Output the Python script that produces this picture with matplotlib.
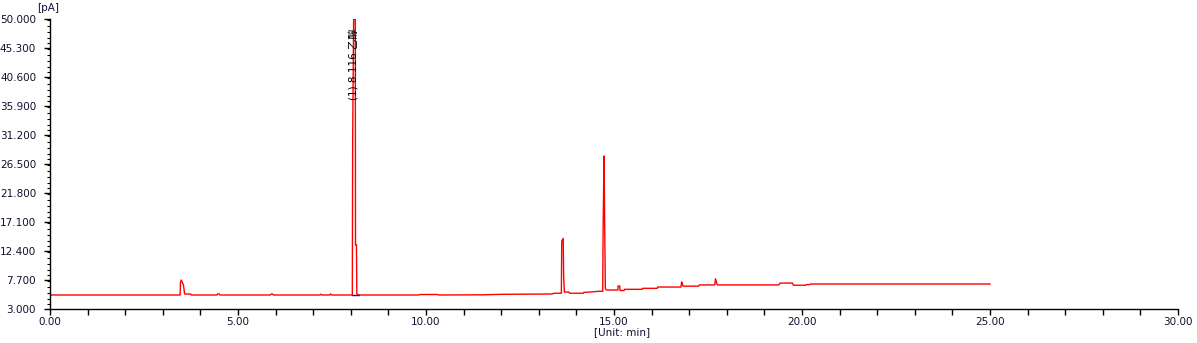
import matplotlib
matplotlib.use("Agg")
import matplotlib.pyplot as plt
from matplotlib.ticker import MultipleLocator, FixedLocator

# chromatogram trace: time [min] / signal [pA]
time_min = [
    0.00, 3.46, 3.47, 3.49, 3.55, 3.58, 3.74, 3.76,
    4.44, 4.46, 4.50, 4.52, 5.86, 5.88, 5.92, 5.94,
    7.18, 7.20, 7.23, 7.44, 7.46, 7.49,
    8.04, 8.05, 8.075, 8.12, 8.125, 8.15, 8.16, 8.22,
    9.80, 9.85, 10.30, 10.35, 11.50, 12.00, 13.35, 13.40,
    13.60, 13.61, 13.65, 13.66, 13.68, 13.80, 13.82, 14.18, 14.20, 14.25,
    14.60, 14.70, 14.71, 14.735, 14.75, 14.77, 14.80,
    15.10, 15.11, 15.15, 15.16, 15.27, 15.28, 15.75, 15.76, 16.15, 16.16,
    16.78, 16.80, 16.82, 16.84, 17.25, 17.27,
    17.68, 17.70, 17.73, 17.75, 19.38, 19.42, 19.75, 19.77,
    20.10, 20.12, 20.20, 20.22, 25.00,
]
signal_pa = [
    5.27, 5.27, 7.30, 7.70, 6.89, 5.43, 5.43, 5.27,
    5.27, 5.45, 5.45, 5.27, 5.27, 5.42, 5.42, 5.27,
    5.27, 5.40, 5.27, 5.27, 5.45, 5.27,
    5.27, 30.70, 49.95, 49.95, 13.40, 13.40, 5.45, 5.27,
    5.27, 5.35, 5.35, 5.27, 5.30, 5.38, 5.43, 5.55,
    5.55, 14.00, 14.45, 8.50, 5.75, 5.75, 5.55, 5.55, 5.70, 5.70,
    5.87, 5.87, 15.64, 27.80, 17.70, 6.30, 6.08,
    6.08, 6.73, 6.73, 6.00, 6.00, 6.19, 6.19, 6.35, 6.35, 6.56,
    6.56, 7.40, 7.00, 6.70, 6.70, 6.90,
    6.90, 7.90, 7.20, 6.90, 6.90, 7.20, 7.20, 6.85,
    6.85, 6.95, 6.95, 7.05, 7.05,
]

# integration baseline of the labelled peak
base_time = [8.03, 8.22]
base_signal = [5.27, 5.27]

peak_time = 8.10
peak_label = "(1) 8.116 乙醇"

y_ticks = [3.0, 7.7, 12.4, 17.1, 21.8, 26.5, 31.2, 35.9, 40.6, 45.3, 50.0]
x_ticks = [0, 5, 10, 15, 20, 25, 30]

W, H = 1197, 343
fig = plt.figure(figsize=(W / 100, H / 100), dpi=100)
ax = fig.add_axes([50 / W, 1 - 309 / H, (1178 - 50) / W, (309 - 19) / H])

ax.plot(base_time, base_signal, color="#0000ff", lw=1.0)
ax.plot(time_min, signal_pa, color="#ff0000", lw=1.0)

ax.text(peak_time, 36.9, peak_label, rotation=90, ha="center", va="bottom",
        fontsize=7.5, family=["DejaVu Sans", "Noto Sans CJK SC"])

ax.set_xlim(0, 30)
ax.set_ylim(3, 50)
for s in ["top", "right"]:
    ax.spines[s].set_visible(False)
for s in ["left", "bottom"]:
    ax.spines[s].set_linewidth(1.0)

ax.xaxis.set_major_locator(FixedLocator(x_ticks))
ax.set_xticklabels(["%.2f" % v for v in x_ticks])
ax.xaxis.set_minor_locator(MultipleLocator(1))
ax.yaxis.set_major_locator(FixedLocator(y_ticks))
ax.set_yticklabels(["%.3f" % v for v in y_ticks])
ax.yaxis.set_minor_locator(MultipleLocator(0.94))

ax.tick_params(axis="x", which="both", length=4, width=1, pad=2,
               labelsize=7.5, labelcolor="#101030")
ax.tick_params(axis="y", which="major", length=4, width=1, pad=6,
               labelsize=7.5, labelcolor="#101030")
ax.tick_params(axis="y", which="minor", length=2, width=0.8)

fig.text(48 / W, 1 - 8 / H, "[pA]", ha="center", va="center",
         fontsize=7.5, color="#101030")
fig.text(622 / W, 1 - 332 / H, "[Unit: min]", ha="center", va="center",
         fontsize=7.5, color="#101030")

fig.savefig("out.png", dpi=100)
